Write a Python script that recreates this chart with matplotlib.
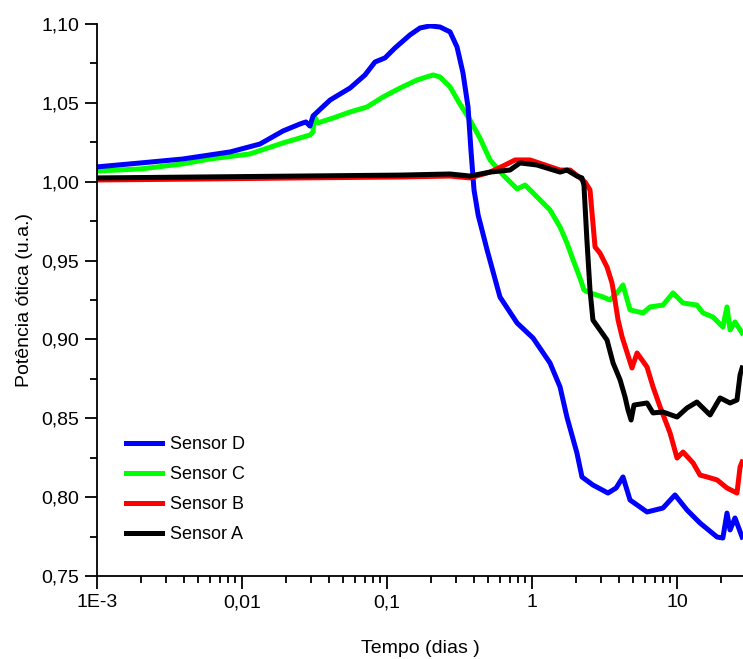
import numpy as np
import matplotlib
matplotlib.use("Agg")
import matplotlib.pyplot as plt
from matplotlib.ticker import LogLocator, NullFormatter, MultipleLocator, FuncFormatter

plt.rcParams['font.family'] = ['Liberation Sans', 'DejaVu Sans']

# Sensor D (blue)
t_d = [0.001, 0.0020, 0.0039, 0.0083, 0.0133, 0.0192, 0.0251, 0.0276, 0.0294, 0.0309,
       0.0405, 0.0556, 0.0705, 0.0826, 0.0968, 0.1135, 0.144, 0.169, 0.198, 0.232,
       0.272, 0.304, 0.334, 0.362, 0.379, 0.398, 0.425, 0.490, 0.601, 0.789,
       1.016, 1.33, 1.56, 1.74, 2.04, 2.21, 2.63, 3.34, 3.80, 4.24,
       4.74, 6.21, 8.0, 9.68, 11.7, 14.4, 18.9, 20.7, 22.1, 23.2, 25.1, 28.1]
v_d = [1.0094, 1.0119, 1.0144, 1.0189, 1.0239, 1.0322, 1.0366, 1.0379, 1.0353, 1.0417,
       1.0518, 1.0594, 1.0677, 1.0759, 1.0785, 1.0848, 1.0931, 1.0975, 1.0988, 1.0981,
       1.0950, 1.0854, 1.0690, 1.0474, 1.0201, 0.9948, 0.9789, 0.9567, 0.9269, 0.9104,
       0.9009, 0.8851, 0.8699, 0.8508, 0.8280, 0.8128, 0.8077, 0.8026, 0.8058, 0.8128,
       0.7982, 0.7906, 0.7931, 0.8014, 0.7919, 0.7836, 0.7747, 0.7741, 0.7899, 0.7792, 0.7868, 0.7747]

# Sensor C (green)
t_c = [0.001, 0.0020, 0.0039, 0.0060, 0.0113, 0.0192, 0.0294, 0.0309, 0.0314, 0.0334,
       0.0425, 0.0556, 0.0728, 0.0937, 0.123, 0.161, 0.2075, 0.232, 0.272, 0.318,
       0.373, 0.437, 0.513, 0.631, 0.789, 0.896, 1.016, 1.33, 1.56, 1.74,
       1.92, 2.14, 2.28, 2.51, 3.09, 3.45, 3.86, 4.24, 4.74, 5.83,
       6.51, 8.0, 9.38, 11.0, 13.7, 15.1, 17.7, 20.7, 22.1, 23.2, 25.1, 28.1]
v_c = [1.0068, 1.0081, 1.0113, 1.0144, 1.0176, 1.0246, 1.0296, 1.0315, 1.0417, 1.0373,
       1.0404, 1.0442, 1.0474, 1.0537, 1.0594, 1.0645, 1.0677, 1.0664, 1.0601, 1.0493,
       1.0392, 1.0277, 1.0138, 1.0043, 0.9954, 0.9979, 0.9929, 0.9821, 0.9713, 0.9612,
       0.9504, 0.9390, 0.9314, 0.9295, 0.9269, 0.9250, 0.9295, 0.9345, 0.9187, 0.9168,
       0.9206, 0.9218, 0.9295, 0.9231, 0.9218, 0.9168, 0.9142, 0.9079, 0.9206, 0.9060, 0.9111, 0.9041]

# Sensor B (red)
t_b = [0.001, 0.0051, 0.0251, 0.123, 0.272, 0.373, 0.513, 0.652, 0.764, 0.968,
       1.23, 1.56, 1.83, 2.14, 2.32, 2.51, 2.63, 2.72, 2.94, 3.29,
       3.56, 3.73, 3.92, 4.18, 4.89, 5.30, 6.21, 6.83, 7.64, 8.95,
       10.0, 11.0, 12.9, 14.4, 16.1, 18.9, 22.1, 25.9, 27.2, 28.1]
v_b = [1.0011, 1.0017, 1.0024, 1.0030, 1.0036, 1.0024, 1.0061, 1.0106, 1.0138, 1.0138,
       1.0106, 1.0074, 1.0074, 1.0024, 0.9998, 0.9948, 0.9738, 0.9586, 0.9548, 0.9459,
       0.9358, 0.9250, 0.9123, 0.9016, 0.8819, 0.8914, 0.8825, 0.8699, 0.8572, 0.8407,
       0.8248, 0.8286, 0.8217, 0.8140, 0.8128, 0.8109, 0.8058, 0.8026, 0.8191, 0.8223]

# Sensor A (black)
t_a = [0.001, 0.0051, 0.0251, 0.123, 0.272, 0.373, 0.513, 0.705, 0.826, 1.08,
       1.56, 1.74, 2.04, 2.21, 2.28, 2.39, 2.51, 2.63, 2.94, 3.29,
       3.62, 4.05, 4.38, 4.59, 4.82, 5.05, 6.21, 6.83, 8.0, 10.0,
       11.7, 13.7, 16.9, 19.8, 23.2, 25.9, 27.2, 28.1]
v_a = [1.0024, 1.0030, 1.0036, 1.0042, 1.0049, 1.0036, 1.0061, 1.0074, 1.0119, 1.0106,
       1.0061, 1.0074, 1.0036, 1.0024, 0.9979, 0.9631, 0.9314, 0.9123, 0.9060, 0.8996,
       0.8851, 0.8743, 0.8635, 0.8553, 0.8489, 0.8584, 0.8597, 0.8534, 0.8540, 0.8508,
       0.8565, 0.8603, 0.8521, 0.8629, 0.8597, 0.8616, 0.8775, 0.8819]

xticks = [1e-3, 1e-2, 1e-1, 1, 10]
xtick_labels = ['1E-3', '0,01', '0,1', '1', '10']

fig = plt.figure(figsize=(7.43, 6.59), dpi=100)
ax = fig.add_axes([97/743, 83/659, 646/743, 552/659])

lw = 3.6
lc, = ax.plot(t_c, v_c, color='#00ff00', lw=lw, label='Sensor C')
ld, = ax.plot(t_d, v_d, color='#0000ff', lw=lw, label='Sensor D')
lb, = ax.plot(t_b, v_b, color='#ff0000', lw=lw, label='Sensor B')
la, = ax.plot(t_a, v_a, color='#000000', lw=lw, label='Sensor A')

ax.set_xscale('log')
ax.set_xlim(1e-3, 28.5)
ax.set_ylim(0.75, 1.10)

ax.set_xticks(xticks)
ax.set_xticklabels(xtick_labels)
ax.xaxis.set_minor_locator(LogLocator(base=10, subs=np.arange(2, 10)))
ax.xaxis.set_minor_formatter(NullFormatter())
ax.yaxis.set_major_locator(MultipleLocator(0.05))
ax.yaxis.set_minor_locator(MultipleLocator(0.025))
ax.yaxis.set_major_formatter(FuncFormatter(lambda v, p: f'{v:.2f}'.replace('.', ',')))

ax.tick_params(which='major', direction='out', length=9, width=1.3, labelsize=14, pad=4)
ax.tick_params(which='minor', direction='out', length=5, width=1.3)
for s in ['top', 'right']:
    ax.spines[s].set_visible(False)
for s in ['left', 'bottom']:
    ax.spines[s].set_linewidth(1.3)

ax.set_xlabel('Tempo (dias )', fontsize=14, labelpad=21)
ax.set_ylabel('Potência ótica (u.a.)', fontsize=14, labelpad=6)

ax.legend(handles=[ld, lc, lb, la], loc='upper left', bbox_to_anchor=(0.033, 0.266),
          frameon=False, fontsize=13, handlelength=2.0, handletextpad=0.45,
          labelspacing=0.72, borderaxespad=0)

fig.savefig('out.png', dpi=100)
